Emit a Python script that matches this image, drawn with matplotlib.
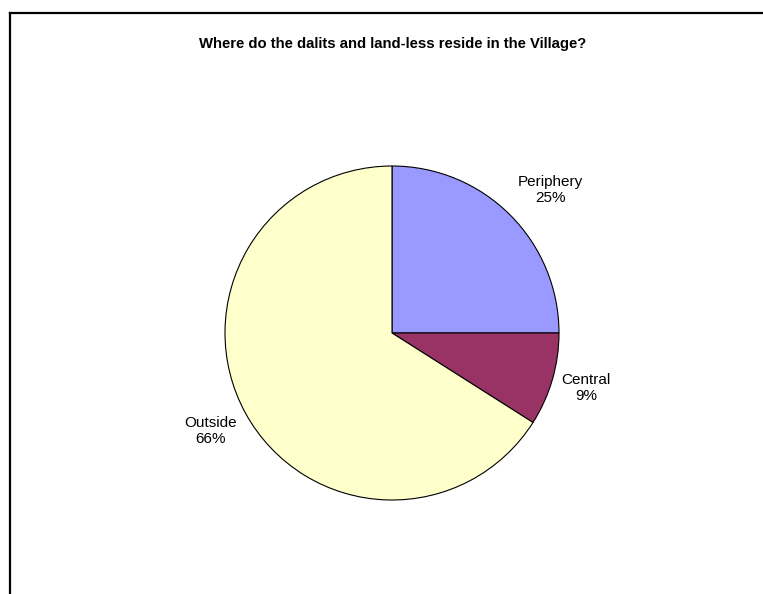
import matplotlib
matplotlib.use("Agg")
import matplotlib.pyplot as plt
import numpy as np

plt.rcParams['font.family'] = ['Liberation Sans', 'DejaVu Sans']

categories = ['Periphery', 'Central', 'Outside']
shares = [25, 9, 66]
colors = ['#9999FF', '#993366', '#FFFFCC']

fig = plt.figure(figsize=(7.63, 5.94), dpi=100)

# frame (only top and left edges are visible in the crop)
fig.add_artist(plt.Line2D([10 / 763, 10 / 763], [0, 1 - 13 / 594], color='black', lw=1.6,
                          transform=fig.transFigure))
fig.add_artist(plt.Line2D([10 / 763, 1], [1 - 13 / 594, 1 - 13 / 594], color='black', lw=1.6,
                          transform=fig.transFigure))

ax = fig.add_axes([225 / 763, 94 / 594, 334 / 763, 334 / 594])
wedges, _ = ax.pie(shares, colors=colors, startangle=90, counterclock=False,
                   wedgeprops=dict(edgecolor='black', linewidth=0.8))
ax.set_xlim(-1, 1)
ax.set_ylim(-1, 1)
ax.set_aspect('equal')
ax.axis('off')

# label placement (distance from centre, angle offset) tuned to the reference
label_pos = [(1.276, -2.9), (1.207, 0.4), (1.233, -0.4)]
for w, name, val, (r, dth) in zip(wedges, categories, shares, label_pos):
    th = np.deg2rad((w.theta1 + w.theta2) / 2 + dth)
    ax.text(r * np.cos(th), r * np.sin(th), f'{name}\n{val}%', ha='center', va='center',
            fontsize=11, linespacing=1.2, clip_on=False)

fig.text(392.5 / 763, 1 - 44 / 594, 'Where do the dalits and land-less reside in the Village?',
         ha='center', va='center', fontsize=10.75, fontweight='bold')

fig.savefig('out.png', dpi=100)
